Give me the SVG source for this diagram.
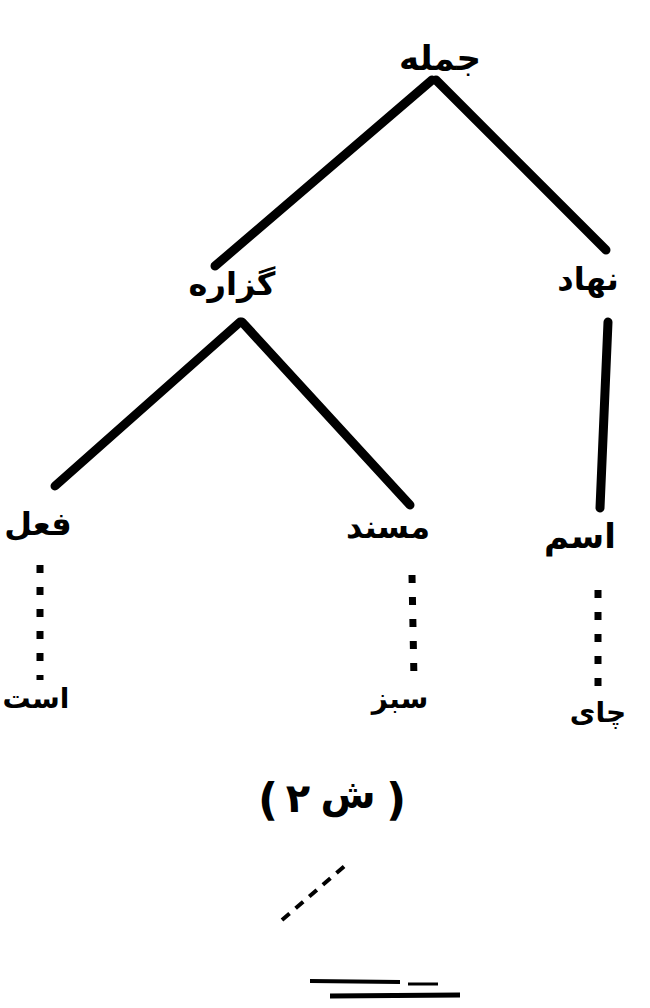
<svg xmlns="http://www.w3.org/2000/svg" width="650" height="1008" viewBox="0 0 650 1008">
<style>
.lbl{font-family:"DejaVu Sans",sans-serif;font-weight:bold;fill:#000;text-anchor:middle}
.br{stroke:#000;stroke-width:9;stroke-linecap:round;fill:none}
.dot{stroke:#000;stroke-width:7;stroke-dasharray:8 14;fill:none}
</style>
<rect width="650" height="1008" fill="#fff"/>
<g id="connectors">
<line class="br" x1="432" y1="80" x2="215" y2="266"/>
<line class="br" x1="436" y1="80" x2="606" y2="250"/>
<line class="br" x1="240" y1="322" x2="55" y2="486"/>
<line class="br" x1="242" y1="322" x2="410" y2="505"/>
<line class="br" x1="608" y1="322" x2="600" y2="508" stroke-width="11"/>
<line class="dot" x1="40" y1="565" x2="40" y2="680"/>
<line class="dot" x1="412" y1="575" x2="414" y2="680"/>
<line class="dot" x1="598" y1="590" x2="598" y2="690"/>
</g>
<g id="n-root"><text class="lbl" x="440" y="70" font-size="34">جمله</text></g>
<g id="n-gozareh"><text class="lbl" x="232" y="295" font-size="32">گزاره</text></g>
<g id="n-nahad"><text class="lbl" x="588" y="290" font-size="32">نهاد</text></g>
<g id="n-fel"><text class="lbl" x="38" y="535" font-size="32">فعل</text></g>
<g id="n-mosnad"><text class="lbl" x="388" y="538" font-size="32">مسند</text></g>
<g id="n-esm"><text class="lbl" x="580" y="548" font-size="34">اسم</text></g>
<g id="n-ast"><text class="lbl" x="36" y="708" font-size="28">است</text></g>
<g id="n-sabz"><text class="lbl" x="400" y="708" font-size="28">سبز</text></g>
<g id="n-chay"><text class="lbl" x="598" y="722" font-size="28">چای</text></g>
<g id="caption">
<text class="lbl" x="268" y="815" font-size="44">(</text>
<text class="lbl" x="298" y="812" font-size="40">۲</text>
<text class="lbl" x="348" y="808" font-size="40">ش</text>
<text class="lbl" x="396" y="815" font-size="44">)</text>
</g>
<g id="marks" stroke="#000" fill="none">
<line x1="282" y1="920" x2="348" y2="863" stroke-width="4" stroke-dasharray="10 8"/>
<line x1="310" y1="981" x2="400" y2="982" stroke-width="4"/>
<line x1="408" y1="984" x2="438" y2="984" stroke-width="3"/>
<line x1="330" y1="996" x2="460" y2="995" stroke-width="5"/>
</g>
</svg>
